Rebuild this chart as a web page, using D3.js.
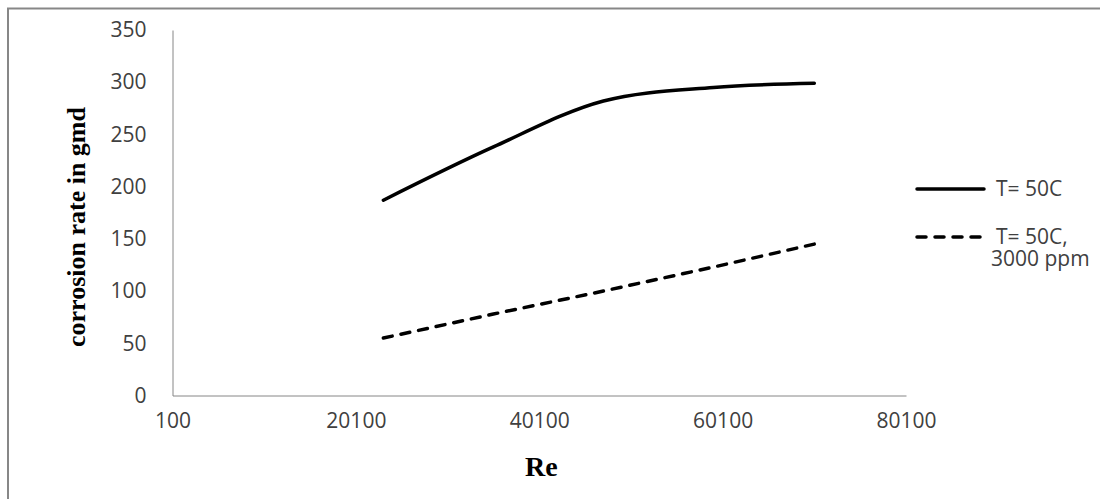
<!DOCTYPE html>
<html>
<head>
<meta charset="utf-8">
<script src="https://cdn.jsdelivr.net/npm/d3@7"></script>
<style>
  html, body { margin: 0; padding: 0; background: #fff; }
  svg { display: block; }
  .tick text { font-family: "Open Sans", sans-serif; font-size: 21px; fill: #404040; }
  .legend text { font-family: "Open Sans", sans-serif; font-size: 21px; fill: #404040; }
  .title { font-family: "Liberation Serif", serif; font-weight: bold; fill: #000; }
</style>
</head>
<body>
<svg id="chart" width="1100" height="499"></svg>
<script>
// Reynolds number at which corrosion rate was measured
const reynolds = [23100, 35100, 47100, 59100, 70100];
// corrosion rate (gmd), T = 50C
const rateT50 = [187, 238, 282, 295, 299];
// corrosion rate (gmd), T = 50C with 3000 ppm inhibitor
const rateT50Inhib = [55, 78, 100, 123, 145];

const xTicks = [100, 20100, 40100, 60100, 80100];
const yTicks = [0, 50, 100, 150, 200, 250, 300, 350];
const seriesNames = ["T= 50C", "T= 50C,", "3000 ppm"];

const svg = d3.select("#chart");

// chart frame
svg.append("rect")
  .attr("x", 8).attr("y", 8.5)
  .attr("width", 1110).attr("height", 520)
  .attr("fill", "none")
  .attr("stroke", "#878787")
  .attr("stroke-width", 2);

const plot = { left: 172.5, right: 906, top: 30, bottom: 395.5 };

const x = d3.scaleLinear().domain([100, 80100]).range([plot.left, plot.right]);
const y = d3.scaleLinear().domain([0, 350]).range([plot.bottom, plot.top]);

// y axis
const gy = svg.append("g")
  .attr("transform", `translate(${plot.left},0)`)
  .call(d3.axisLeft(y).tickValues(yTicks).tickSize(0).tickPadding(26).tickFormat(d3.format("d")));
gy.select(".domain").attr("stroke", "#868686").attr("stroke-width", 1);

// x axis
const gx = svg.append("g")
  .attr("transform", `translate(0,${plot.bottom})`)
  .call(d3.axisBottom(x).tickValues(xTicks).tickSize(0).tickPadding(18).tickFormat(d3.format("d")));
gx.select(".domain").attr("stroke", "#868686").attr("stroke-width", 1);

// axis titles
svg.append("text")
  .attr("class", "title")
  .attr("transform", `translate(85,227) rotate(-90)`)
  .attr("text-anchor", "middle")
  .attr("font-size", 26)
  .text("corrosion rate in gmd");

svg.append("text")
  .attr("class", "title")
  .attr("x", (plot.left + plot.right) / 2 + 2)
  .attr("y", 476)
  .attr("text-anchor", "middle")
  .attr("font-size", 28)
  .text("Re");

const pts1 = reynolds.map((r, i) => [r, rateT50[i]]);
const pts2 = reynolds.map((r, i) => [r, rateT50Inhib[i]]);

const smooth = d3.line().x(d => x(d[0])).y(d => y(d[1])).curve(d3.curveCatmullRom.alpha(0.5));
const straight = d3.line().x(d => x(d[0])).y(d => y(d[1]));

svg.append("path")
  .datum(pts1)
  .attr("d", smooth)
  .attr("fill", "none")
  .attr("stroke", "#000")
  .attr("stroke-width", 3.5)
  .attr("stroke-linecap", "round");

svg.append("path")
  .datum(pts2)
  .attr("d", straight)
  .attr("fill", "none")
  .attr("stroke", "#000")
  .attr("stroke-width", 3.5)
  .attr("stroke-linecap", "round")
  .attr("stroke-dasharray", "9,9");

// legend
const legend = svg.append("g").attr("class", "legend");
legend.append("line")
  .attr("x1", 917).attr("x2", 984).attr("y1", 189).attr("y2", 189)
  .attr("stroke", "#000").attr("stroke-width", 3.5).attr("stroke-linecap", "round");
legend.append("text").attr("x", 996).attr("y", 189).attr("dy", "0.35em").text(seriesNames[0]);

legend.append("line")
  .attr("x1", 917).attr("x2", 984).attr("y1", 237).attr("y2", 237)
  .attr("stroke", "#000").attr("stroke-width", 3.5).attr("stroke-linecap", "round")
  .attr("stroke-dasharray", "9,9");
const wrapped = legend.append("text").attr("y", 237).attr("dy", "0.35em");
wrapped.append("tspan").attr("x", 996).text(seriesNames[1]);
wrapped.append("tspan").attr("x", 991).attr("dy", 22).text(seriesNames[2]);
</script>
</body>
</html>
